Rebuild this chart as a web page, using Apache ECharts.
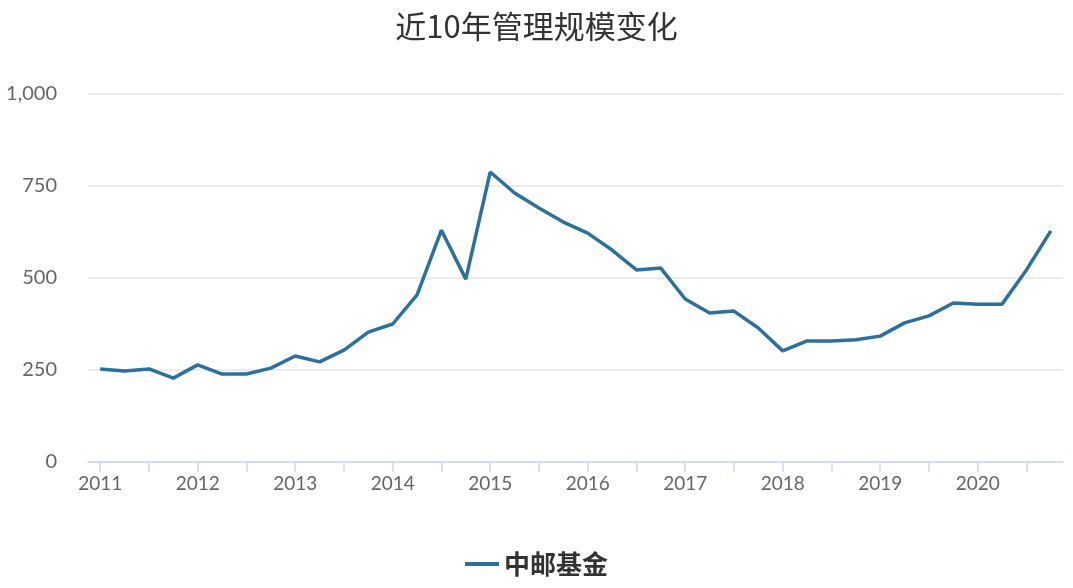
<!DOCTYPE html>
<html><head><meta charset="utf-8">
<script src="https://cdn.jsdelivr.net/npm/echarts@6/dist/echarts.min.js"></script>
<style>html,body{margin:0;padding:0;background:#fff}#c{width:1073px;height:588px}</style>
</head><body><div id="c"></div>
<script>
const years = ['2011','2012','2013','2014','2015','2016','2017','2018','2019','2020'];
const categories = [];
years.forEach(y => { for (let q = 1; q <= 4; q++) categories.push(q === 1 ? y : y + 'Q' + q); });
const seriesName = '中邮基金';
const values = [253,247,253,228,264,239,239,255,288,272,304,353,375,454,630,497,788,731,690,652,622,576,522,527,443,405,410,364,302,329,329,332,342,378,397,432,429,429,522,628];
const yTicks = [0,250,500,750,1000];
const chart = echarts.init(document.getElementById('c'));
chart.setOption({
  title:{text:'近10年管理规模变化',left:'center',top:6,textStyle:{fontSize:31,fontWeight:'normal',color:'#333',fontFamily:'Noto Sans CJK SC'}},
  grid:{left:88,right:10,top:94,bottom:126},
  legend:{bottom:6,left:'center',itemWidth:34,itemHeight:4,icon:'rect',textStyle:{fontSize:26,fontWeight:'bold',color:'#333',fontFamily:'Noto Sans CJK SC'},data:[seriesName]},
  xAxis:{type:'category',data:categories,boundaryGap:true,
    axisLine:{show:true,lineStyle:{color:'#ccd6eb',width:1.5}},
    axisTick:{show:true,interval:1,alignWithLabel:true,length:10,lineStyle:{color:'#ccd6eb',width:1.5}},
    axisLabel:{interval:3,formatter:v=>v.slice(0,4),fontSize:19,color:'#666',fontFamily:'Lato',margin:12}},
  yAxis:{type:'value',min:0,max:1000,interval:250,
    axisLabel:{fontSize:20,color:'#666',fontFamily:'Lato',margin:31,formatter:v=>v.toLocaleString('en-US')},
    splitLine:{lineStyle:{color:'#e6e6e6',width:1.5}}},
  series:[{name:seriesName,type:'line',data:values,symbol:'none',lineStyle:{width:3.5,color:'#2b719d'},itemStyle:{color:'#2b719d'}}]
});
</script></body></html>
